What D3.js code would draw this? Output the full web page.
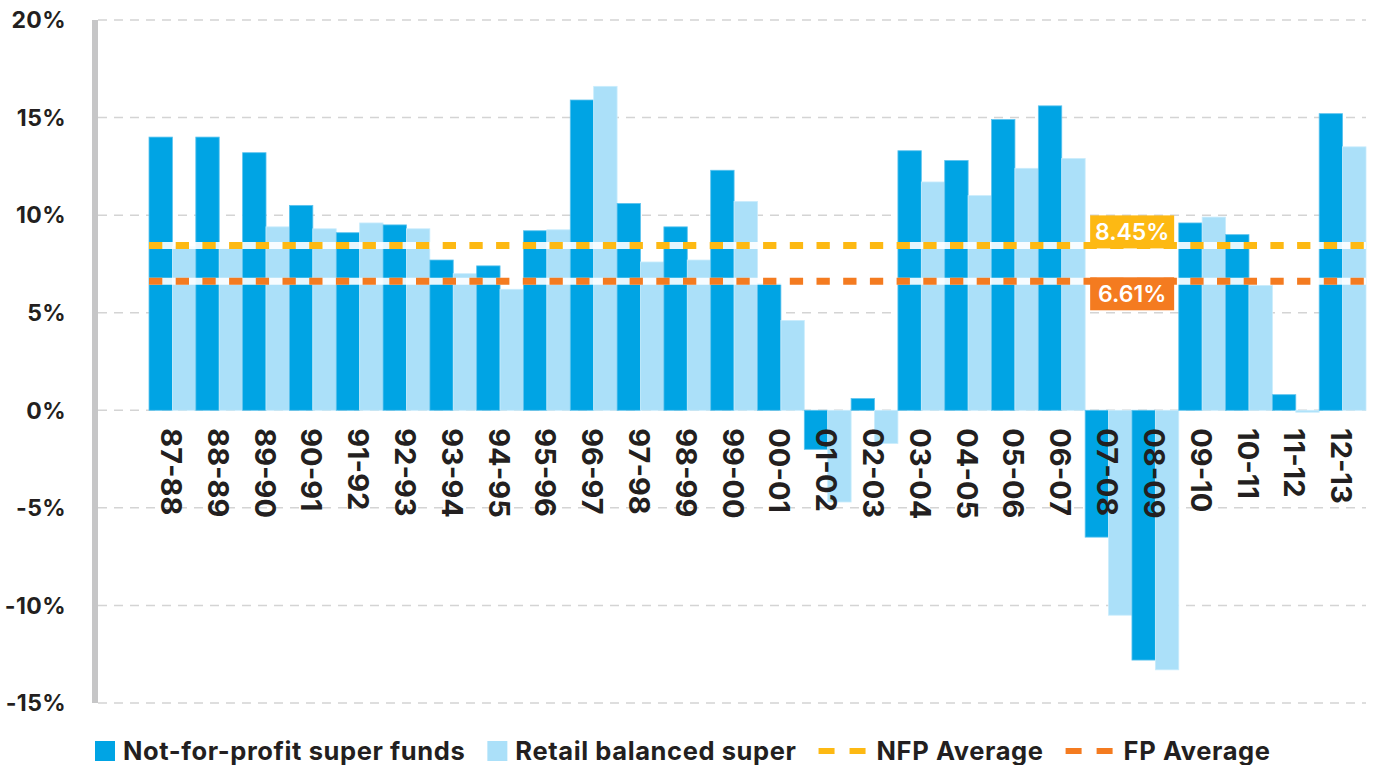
<!DOCTYPE html>
<html>
<head>
<meta charset="utf-8">
<script src="https://cdn.jsdelivr.net/npm/d3@7"></script>
<style>
  body { margin: 0; background: #fff; }
  svg { display: block; font-family: 'Inter', 'Open Sans', sans-serif; font-weight: 700; }
</style>
</head>
<body>
<svg id="chart" width="1373" height="765"></svg>
<script>
// financial years
const years = ['87-88', '88-89', '89-90', '90-91', '91-92', '92-93', '93-94', '94-95', '95-96', '96-97',
  '97-98', '98-99', '99-00', '00-01', '01-02', '02-03', '03-04', '04-05', '05-06', '06-07',
  '07-08', '08-09', '09-10', '10-11', '11-12', '12-13']

// returns in %
const nfpReturns = [14.0, 14.0, 13.2, 10.5, 9.1, 9.5, 7.7, 7.4, 9.2, 15.9,
  10.6, 9.4, 12.3, 6.5, -2.0, 0.6, 13.3, 12.8, 14.9, 15.6,
  -6.5, -12.8, 9.6, 9.0, 0.8, 15.2]
const retailReturns = [8.4, 8.3, 9.4, 9.3, 9.6, 9.3, 7.0, 6.2, 9.25, 16.6,
  7.6, 7.7, 10.7, 4.6, -4.7, -1.7, 11.7, 11.0, 12.4, 12.9,
  -10.5, -13.3, 9.9, 6.4, -0.1, 13.5]

const averages = [8.45, 6.61]
const averageLabels = ['8.45%', '6.61%']
const yTicks = [-15, -10, -5, 0, 5, 10, 15, 20]

const seriesNames = ['Not-for-profit super funds', 'Retail balanced super', 'NFP Average', 'FP Average']
const colors = { nfp: '#00a4e4', retail: '#abe0f9', nfpAvg: '#fdb913', fpAvg: '#f47b20' }

const svg = d3.select('#chart')

let x = d3.scaleBand()
  .domain(years)
  .range([149, 1366])
  .padding(0)

let y = d3.scaleLinear()
  .domain([-15, 20])
  .range([703, 20])

let xSub = d3.scaleBand()
  .domain(['nfp', 'retail'])
  .range([0, x.bandwidth()])

// gridlines
svg.append('g')
  .selectAll('line')
  .data(yTicks)
  .enter()
  .append('line')
  .attr('x1', 98)
  .attr('x2', 1366)
  .attr('y1', d => y(d))
  .attr('y2', d => y(d))
  .attr('stroke', '#d4d4d4')
  .attr('stroke-width', 1.5)
  .attr('stroke-dasharray', '9,7')

// thick left axis bar
svg.append('rect')
  .attr('x', 92)
  .attr('y', y(20))
  .attr('width', 6)
  .attr('height', y(-15) - y(20))
  .attr('fill', '#c6c6c7')

// y tick labels
svg.append('g')
  .selectAll('text')
  .data(yTicks)
  .enter()
  .append('text')
  .attr('x', 66)
  .attr('y', d => y(d))
  .attr('dy', '0.36em')
  .attr('text-anchor', 'end')
  .attr('font-size', 23)
  .attr('letter-spacing', 0.4)
  .attr('fill', '#231f20')
  .text(d => d + '%')

// bars
const rows = years.map((yr, i) => ({ year: yr, nfp: nfpReturns[i], retail: retailReturns[i] }))

const groups = svg.append('g')
  .selectAll('g')
  .data(rows)
  .enter()
  .append('g')
  .attr('transform', d => `translate(${x(d.year)},0)`)

groups.selectAll('rect')
  .data(d => [{ key: 'nfp', v: d.nfp }, { key: 'retail', v: d.retail }])
  .enter()
  .append('rect')
  .attr('x', d => xSub(d.key))
  .attr('width', xSub.bandwidth())
  .attr('y', d => y(Math.max(0, d.v)))
  .attr('height', d => Math.abs(y(d.v) - y(0)))
  .attr('fill', d => colors[d.key])
  .attr('stroke', d => d.key === 'nfp' ? '#5cc3ee' : '#c9ecfc')
  .attr('stroke-width', 0.8)

// x labels, rotated
svg.append('g')
  .selectAll('text')
  .data(years)
  .enter()
  .append('text')
  .attr('transform', d => `translate(${x(d) + x.bandwidth() / 2 - 1},${y(0) + 18}) rotate(90)`)
  .attr('dy', '0.36em')
  .attr('text-anchor', 'start')
  .attr('font-size', 29)
  .attr('fill', '#231f20')
  .text(d => d)

// average lines: white translucent band under dashes
const avgColors = [colors.nfpAvg, colors.fpAvg]
const avgG = svg.append('g')
avgG.selectAll('line.band')
  .data(averages)
  .enter()
  .append('line')
  .attr('class', 'band')
  .attr('x1', x.range()[0])
  .attr('x2', x.range()[1])
  .attr('y1', d => y(d))
  .attr('y2', d => y(d))
  .attr('stroke', '#fff')
  .attr('stroke-opacity', 0.9)
  .attr('stroke-width', 7)

avgG.selectAll('line.dash')
  .data(averages)
  .enter()
  .append('line')
  .attr('class', 'dash')
  .attr('x1', x.range()[0])
  .attr('x2', x.range()[1])
  .attr('y1', d => y(d))
  .attr('y2', d => y(d))
  .attr('stroke', (d, i) => avgColors[i])
  .attr('stroke-width', 7)
  .attr('stroke-dasharray', '13.3,13.4')

// value boxes on the average lines
const boxX = x('07-08') + 5
const boxW = 84, boxH = 33
const boxY = [y(averages[0]) - 30, y(averages[1]) - 4]

averages.forEach((a, i) => {
  svg.append('rect')
    .attr('x', boxX)
    .attr('y', boxY[i])
    .attr('width', boxW)
    .attr('height', boxH)
    .attr('fill', avgColors[i])
  svg.append('text')
    .attr('x', boxX + boxW / 2)
    .attr('y', boxY[i] + boxH / 2)
    .attr('dy', '0.36em')
    .attr('text-anchor', 'middle')
    .attr('font-size', 23)
    .attr('font-weight', 600)
    .attr('fill', '#fff')
    .text(averageLabels[i])
})

// legend
const legend = svg.append('g').attr('transform', 'translate(0,751)')
let lx = 95
const legendKinds = ['square', 'square', 'dash', 'dash']
const legendColors = [colors.nfp, colors.retail, colors.nfpAvg, colors.fpAvg]

seriesNames.forEach((name, i) => {
  if (legendKinds[i] === 'square') {
    legend.append('rect')
      .attr('x', lx)
      .attr('y', -10)
      .attr('width', 20)
      .attr('height', 20)
      .attr('fill', legendColors[i])
    lx += 28
  } else {
    legend.append('line')
      .attr('x1', lx)
      .attr('x2', lx + 48)
      .attr('y1', 0)
      .attr('y2', 0)
      .attr('stroke', legendColors[i])
      .attr('stroke-width', 6)
      .attr('stroke-dasharray', '16,15')
    lx += 58
  }
  const t = legend.append('text')
    .attr('x', lx)
    .attr('y', 0)
    .attr('dy', '0.36em')
    .attr('font-size', 25.5)
    .attr('letter-spacing', 0.6)
    .attr('fill', '#231f20')
    .text(name)
  lx += t.node().getComputedTextLength() + 22
})
</script>
</body>
</html>
